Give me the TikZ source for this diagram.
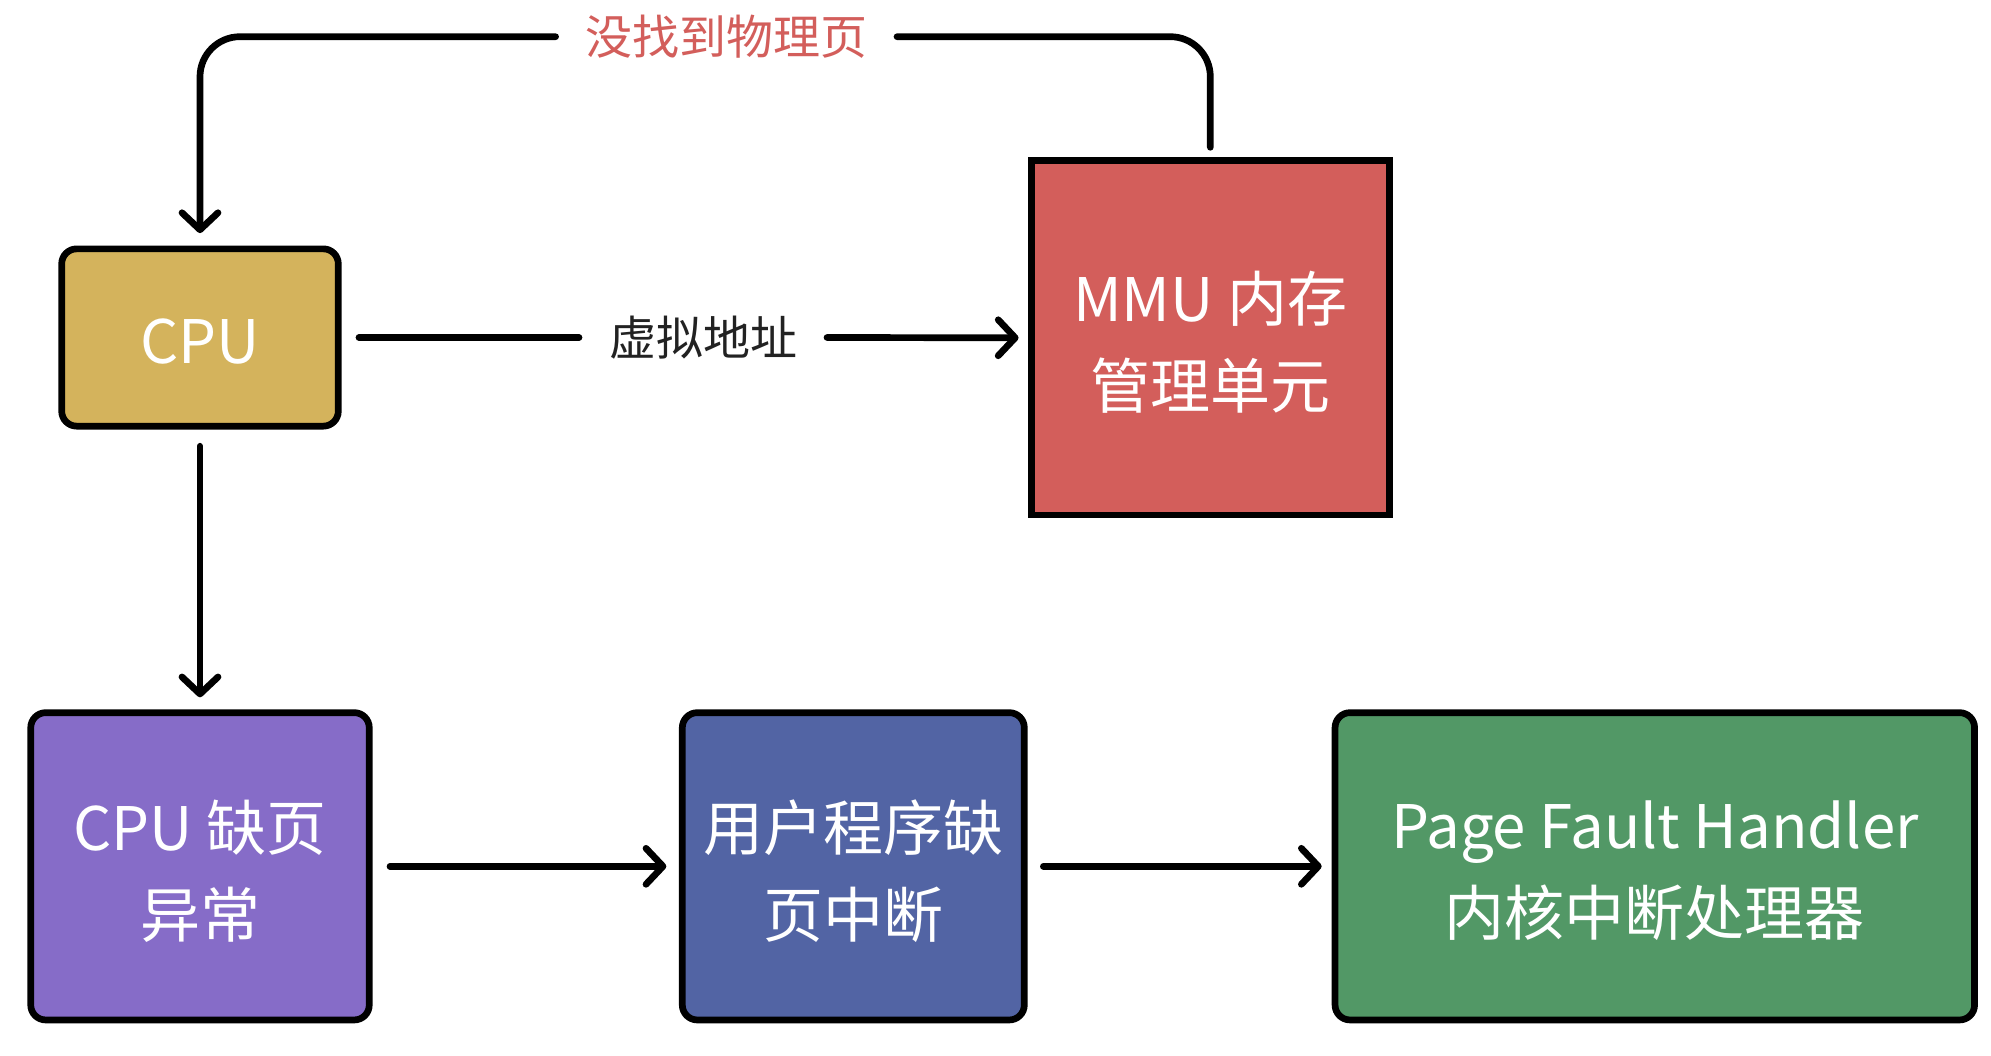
\documentclass[tikz,border=0pt]{standalone}
\usepackage{fontspec}
\setmainfont{Noto Sans CJK SC}
\usetikzlibrary{arrows.meta}
\definecolor{cpuc}{HTML}{D4B35C}
\definecolor{mmuc}{HTML}{D35E5B}
\definecolor{pfc}{HTML}{866CC8}
\definecolor{userc}{HTML}{5264A4}
\definecolor{kernc}{HTML}{529866}
\definecolor{labred}{HTML}{D35E5B}
\definecolor{labdark}{HTML}{222222}
\begin{document}
\begin{tikzpicture}[x=1pt,y=-1pt,
  box/.style={draw=black, line width=6.7pt, inner sep=0pt},
  rbox/.style={box, rounded corners=15pt},
  boxtext/.style={text=white, align=center, font=\fontsize{60}{87}\selectfont,
    inner sep=0pt, yshift=-4.5pt},
  plain/.style={line width=6.7pt, line cap=round, line join=round},
  link/.style={plain, -{Straight Barb[length=17pt,width=36pt,round]}},
  lab/.style={font=\fontsize{47}{56}\selectfont, inner ysep=0pt, outer sep=0pt}]
\useasboundingbox[fill=white] (0,0) rectangle (1991,1055);

\node[rbox, fill=cpuc, minimum width=276.6pt, minimum height=177.3pt,
  label={[boxtext]center:CPU}] (cpu) at (200,337.5) {};
\node[box, fill=mmuc, minimum width=358pt, minimum height=354.3pt,
  label={[boxtext]center:{MMU 内存\\管理单元}}] (mmu) at (1210.3,337.8) {};
\node[rbox, fill=pfc, minimum width=338.5pt, minimum height=307.3pt,
  label={[boxtext]center:{CPU 缺页\\异常}}] (pf) at (200,866.3) {};
\node[rbox, fill=userc, minimum width=342pt, minimum height=307.3pt,
  label={[boxtext]center:{用户程序缺\\页中断}}] (user) at (853.3,866.3) {};
\node[rbox, fill=kernc, minimum width=639.5pt, minimum height=307.3pt,
  label={[boxtext]center:{Page Fault Handler\\内核中断处理器}}] (kern) at (1654.8,866.3) {};

\node[lab, text=labdark, inner xsep=30pt] (va) at (703,337.5) {虚拟地址};
\node[lab, text=labred, inner xsep=29.7pt] (nf) at (726.3,36.7) {没找到物理页};

\draw[plain, shorten <=17.3pt] (cpu.east) -- (va.west);
\draw[link, shorten >=9.4pt] (va.east) -- (mmu.west);
\draw[link, shorten <=16.7pt, shorten >=12pt] (cpu.south) -- (pf.north);
\draw[link, shorten <=17.4pt, shorten >=12.6pt] (pf.east) -- (user.west);
\draw[link, shorten <=15.7pt, shorten >=10pt] (user.east) -- (kern.west);
\draw[plain, rounded corners=40pt, shorten <=10pt] (mmu.north) |- (nf.east);
\draw[link, rounded corners=40pt, shorten >=12.4pt] (nf.west) -| (cpu.north);
\end{tikzpicture}
\end{document}
